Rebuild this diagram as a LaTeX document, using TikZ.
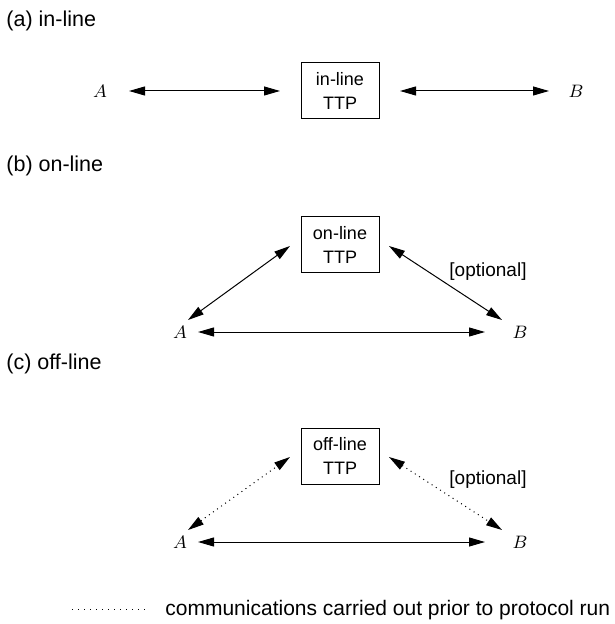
\documentclass[tikz,border=0pt]{standalone}
\usepackage{fontspec}
\setmainfont{Liberation Sans}
\usetikzlibrary{arrows.meta}
\begin{document}
\begin{tikzpicture}[x=0.5pt,y=-0.5pt,
  lbl/.style={anchor=west,inner sep=0pt,font=\fontsize{10.75}{13}\selectfont},
  ttp/.style={draw,line width=0.5pt,minimum width=39pt,minimum height=28pt,inner sep=0pt,align=center,font=\fontsize{9}{12}\selectfont},
  party/.style={inner sep=0pt,font=\fontsize{9.5}{11}\selectfont},
  opt/.style={inner sep=0pt,font=\fontsize{9.5}{11}\selectfont},
  link/.style={line width=0.5pt,{Triangle[length=8pt,width=4.5pt]}-{Triangle[length=8pt,width=4.5pt]}},
  prior/.style={link,dash pattern=on 0.5pt off 2pt}]
\useasboundingbox (0,0) rectangle (614,624);

% (a) in-line
\node[lbl] (la) at (6,21) {(a) in-line};
\node[party] (Aa) at (100,91) {$A$};
\node[party] (Ba) at (576,91) {$B$};
\node[ttp] (ta) at (340,91) {in-line\\TTP};
\coordinate (a1) at (129,91);
\coordinate (a2) at (280,91);
\coordinate (a3) at (400,91);
\coordinate (a4) at (549,91);
\draw[link] (a1) -- (a2);
\draw[link] (a3) -- (a4);

% (b) on-line
\node[lbl] (lb) at (6,166) {(b) on-line};
\node[ttp] (tb) at (340,245) {on-line\\TTP};
\node[party] (Ab) at (180,332) {$A$};
\node[party] (Bb) at (520,332) {$B$};
\node[opt] (ob) at (488,272) {[optional]};
\coordinate (b1) at (198,332);
\coordinate (b2) at (485,332);
\coordinate (b3) at (188,320);
\coordinate (b4) at (290,246);
\coordinate (b5) at (389,246);
\coordinate (b6) at (502,320);
\draw[link] (b1) -- (b2);
\draw[link] (b3) -- (b4);
\draw[link] (b5) -- (b6);

% (c) off-line
\node[lbl] (lc) at (6,364) {(c) off-line};
\node[ttp] (tc) at (340,456) {off-line\\TTP};
\node[party] (Ac) at (180,542) {$A$};
\node[party] (Bc) at (520,542) {$B$};
\node[opt] (oc) at (488,480) {[optional]};
\coordinate (c1) at (198,542);
\coordinate (c2) at (485,542);
\coordinate (c3) at (188,530);
\coordinate (c4) at (290,457);
\coordinate (c5) at (389,457);
\coordinate (c6) at (502,530);
\draw[link] (c1) -- (c2);
\draw[prior] (c3) -- (c4);
\draw[prior] (c5) -- (c6);

% legend
\coordinate (g1) at (72,609);
\coordinate (g2) at (147,609);
\draw[line width=0.5pt,dash pattern=on 0.5pt off 2.5pt] (g1) -- (g2);
\node[lbl,font=\fontsize{10.5}{13}\selectfont] (lg) at (165,610) {communications carried out prior to protocol run};
\end{tikzpicture}
\end{document}
